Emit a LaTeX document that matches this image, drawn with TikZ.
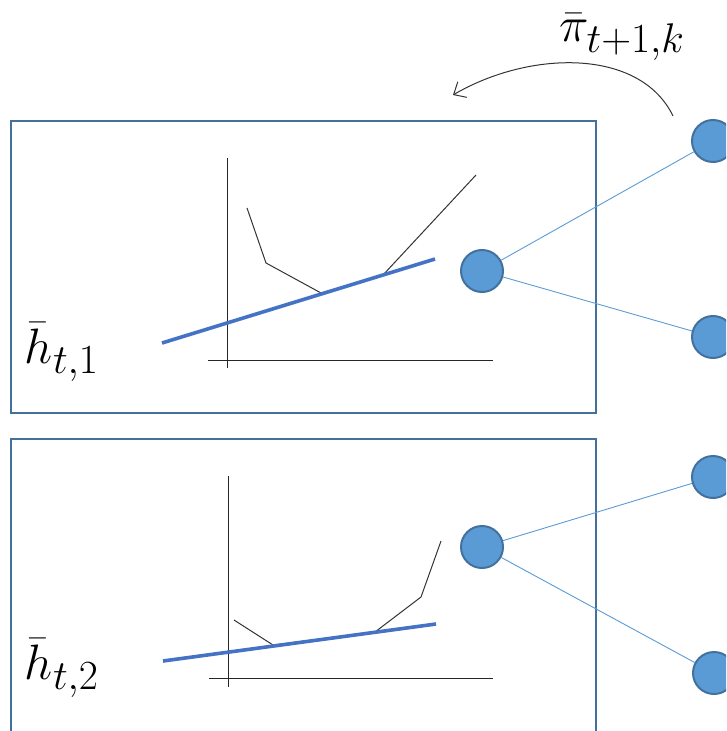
\documentclass[tikz,border=0pt]{standalone}
\usepackage{tikz}
\usetikzlibrary{arrows.meta,calc,positioning}

\definecolor{panelblue}{RGB}{65,113,156}
\definecolor{nodeblue}{RGB}{91,155,213}
\definecolor{fitblue}{RGB}{68,114,196}

\begin{document}
\begin{tikzpicture}[
			x=0.5pt, y=-0.5pt,
			>={Straight Barb[length=5pt,width=9pt]},
			panel/.style={draw=panelblue, line width=1.2pt},
			neuron/.style={draw=panelblue, fill=nodeblue, circle, line width=1pt, inner sep=0pt, minimum size=21pt},
			link/.style={nodeblue, line width=0.45pt},
			axis/.style={black!85, line width=0.5pt},
			fit/.style={fitblue, line width=1.8pt},
			curve/.style={black!80, line width=0.5pt},
			lbl/.style={font=\Huge, inner sep=0pt}
			]
			\useasboundingbox (0,0) rectangle (726,731);
			\clip (0,0) rectangle (726,731);
			
			% the two panels
			\draw[panel] (11,121) rectangle (596,413);
			\draw[panel] (11,439) rectangle (596,760);
			
			\node[lbl] (hbar1) at (62,352) {$\bar{h}_{t,1}$};
			\node[lbl] (hbar2) at (62,668) {$\bar{h}_{t,2}$};
			
			% panel 1 sketch
			\draw[axis] (227,158) -- (227,368);
			\draw[axis] (208,360) -- (493,360);
			\draw[curve] (247,208) -- (266,263) -- (321,293) -- (383,275) -- (476,175);
			\draw[fit] (162,343) -- (435,259);
			
			% panel 2 sketch
			\draw[axis] (228,476) -- (228,687);
			\draw[axis] (209,678) -- (493,678);
			\draw[curve] (234,620) -- (273,645) -- (375,632) -- (421,597) -- (441,541);
			\draw[fit] (163,661) -- (436,624);
			
			\node[neuron] (p1) at (482,271) {};
			\node[neuron] (p2) at (482,547) {};
			\node[neuron] (o11) at (713,141) {};
			\node[neuron] (o12) at (713,337) {};
			\node[neuron] (o21) at (713,477) {};
			\node[neuron] (o22) at (714,673) {};
			
			\draw[link] (p1) -- (o11);
			\draw[link] (p1) -- (o12);
			\draw[link] (p2) -- (o21);
			\draw[link] (p2) -- (o22);
			
			\node[lbl] (pibar) at (622,37) {$\bar{\pi}_{t+1,k}$};
			
			\coordinate (msgfrom) at (673,116);
			\coordinate (msgto)   at (453,95);
			\draw[curve, ->] (msgfrom) .. controls (640,48) and (530,50) .. (msgto);
		\end{tikzpicture}
\end{document}
